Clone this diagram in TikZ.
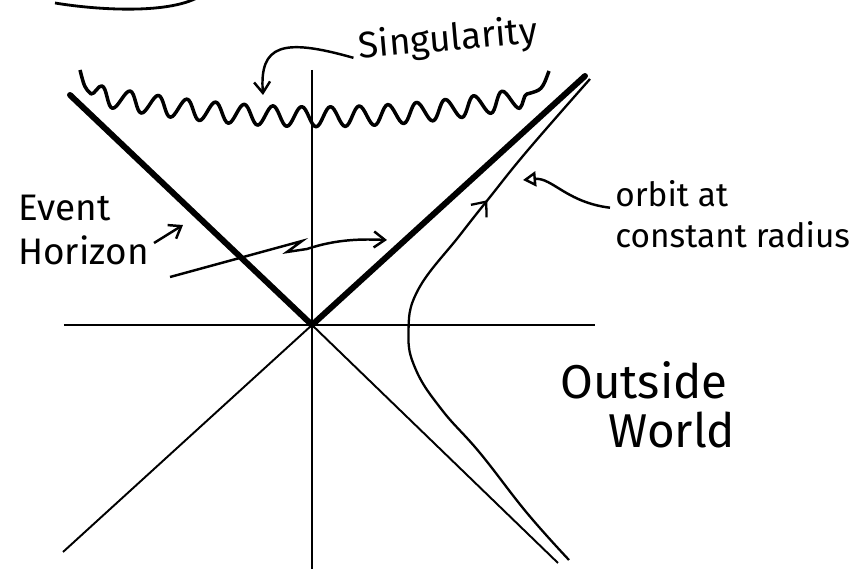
\documentclass[tikz,border=0pt]{standalone}
\usepackage{fontspec}
\setmainfont{Fira Sans}
\usetikzlibrary{positioning,arrows.meta,decorations.pathmorphing,decorations.markings}

\begin{document}
\begin{tikzpicture}[
			axis/.style={line width=1.1pt},
			horizon/.style={line width=3.4pt, line cap=round},
			singline/.style={line width=2pt, line join=round},
			orbitline/.style={line width=1.3pt},
			pointer/.style={-{Straight Barb[length=2.2mm,width=3.2mm]}, line width=1.4pt},
			note/.style={inner sep=0pt, align=left, font=\fontsize{19}{23}\selectfont},
			bignote/.style={inner sep=0pt, align=left, font=\fontsize{21}{25}\selectfont}]
			
			\useasboundingbox (-6.24,-4.88) rectangle (10.9,6.5);
			
			% ends of the lines
			\coordinate (o) at (0,0);
			\coordinate (xl) at (-4.96,0);
			\coordinate (xr) at (5.66,0);
			\coordinate (yt) at (0,5.1);
			\coordinate (yb) at (0,-4.9);
			\coordinate (hl) at (-4.84,4.6);
			\coordinate (hr) at (5.46,4.98);
			\coordinate (ll) at (-4.98,-4.54);
			\coordinate (lr) at (4.92,-4.76);
			
			% axes and light cone
			\draw[axis] (xl) -- (xr);
			\draw[axis] (yt) -- (yb);
			\draw[axis] (o) -- (ll);
			\draw[axis] (o) -- (lr);
			\draw[horizon] (hl) -- (o) -- (hr);
			
			% orbit
			\draw[orbitline, postaction={decorate},
			decoration={markings, mark=at position 0.735 with {\arrow{Straight Barb[length=2.4mm,width=4mm]}}}]
			plot[smooth, tension=0.7] coordinates {(5.14,-4.7) (4.3,-3.76) (3.36,-2.56)
				(2.6,-1.7) (2.08,-0.9) (1.93,-0.16) (2.12,0.7) (2.96,1.8) (3.56,2.56) (4.32,3.5) (5.56,4.92)};
			
			% singularity
			\coordinate (sa) at (-4.64,5.1);
			\coordinate (sb) at (-4.42,4.62);
			\coordinate (sc) at (4.3,4.62);
			\coordinate (sd) at (4.74,5.08);
			\draw[singline] (sa) .. controls (-4.55,4.75) .. (sb)
			decorate[decoration={snake, segment length=0.58cm, amplitude=0.2cm}] {.. controls (-1.5,4.05) and (1.5,4.05) .. (sc)}
			.. controls (4.6,4.7) .. (sd);
			
			% cut off stroke at the top
			\draw[line width=1.6pt] (-5.14,6.44) .. controls (-4.3,6.3) and (-2.8,6.2) .. (-2.2,6.6);
			
			% labels
			\node[note, rotate=5, font=\fontsize{21}{25}\selectfont] (singtext) at (2.72,5.7) {Singularity};
			\node[bignote, anchor=west] (evh) at (-5.88,1.9) {Event\\Horizon};
			\node[note, anchor=west] (orbit) at (6.06,2.22) {orbit at\\constant radius};
			\node[bignote, anchor=west, font=\fontsize{27}{30}\selectfont] (outside) at (4.96,-1.1) {Outside};
			\node[bignote, anchor=west, font=\fontsize{27}{30}\selectfont] (world) at (5.92,-2.1) {World};
			
			% pointers
			\coordinate (singtip) at (-0.98,4.6);
			\coordinate (ehleft) at (-2.58,2.0);
			\coordinate (ehright) at (1.5,1.7);
			\coordinate (orbtip) at (4.22,2.9);
			
			\draw[pointer] ([xshift=-1mm,yshift=-2mm]singtext.west) .. controls (-0.6,5.75) and (-1.05,5.6) .. (singtip);
			\draw[pointer] ([xshift=1mm,yshift=-2.6mm]evh.east) -- (ehleft);
			\draw[pointer] ([xshift=4.2mm,yshift=-9.4mm]evh.east) -- (-0.2,1.68) -- (-0.5,1.46) -- (-0.1,1.52)
			.. controls (0.5,1.72) and (1.0,1.72) .. (ehright);
			\draw[-{Triangle[open,length=2.6mm,width=3mm]}, line width=1.4pt]
			([xshift=-1mm,yshift=-5.5mm]orbit.north west) .. controls (5.1,2.45) and (4.8,2.95) .. (orbtip);
			
		\end{tikzpicture}
\end{document}
